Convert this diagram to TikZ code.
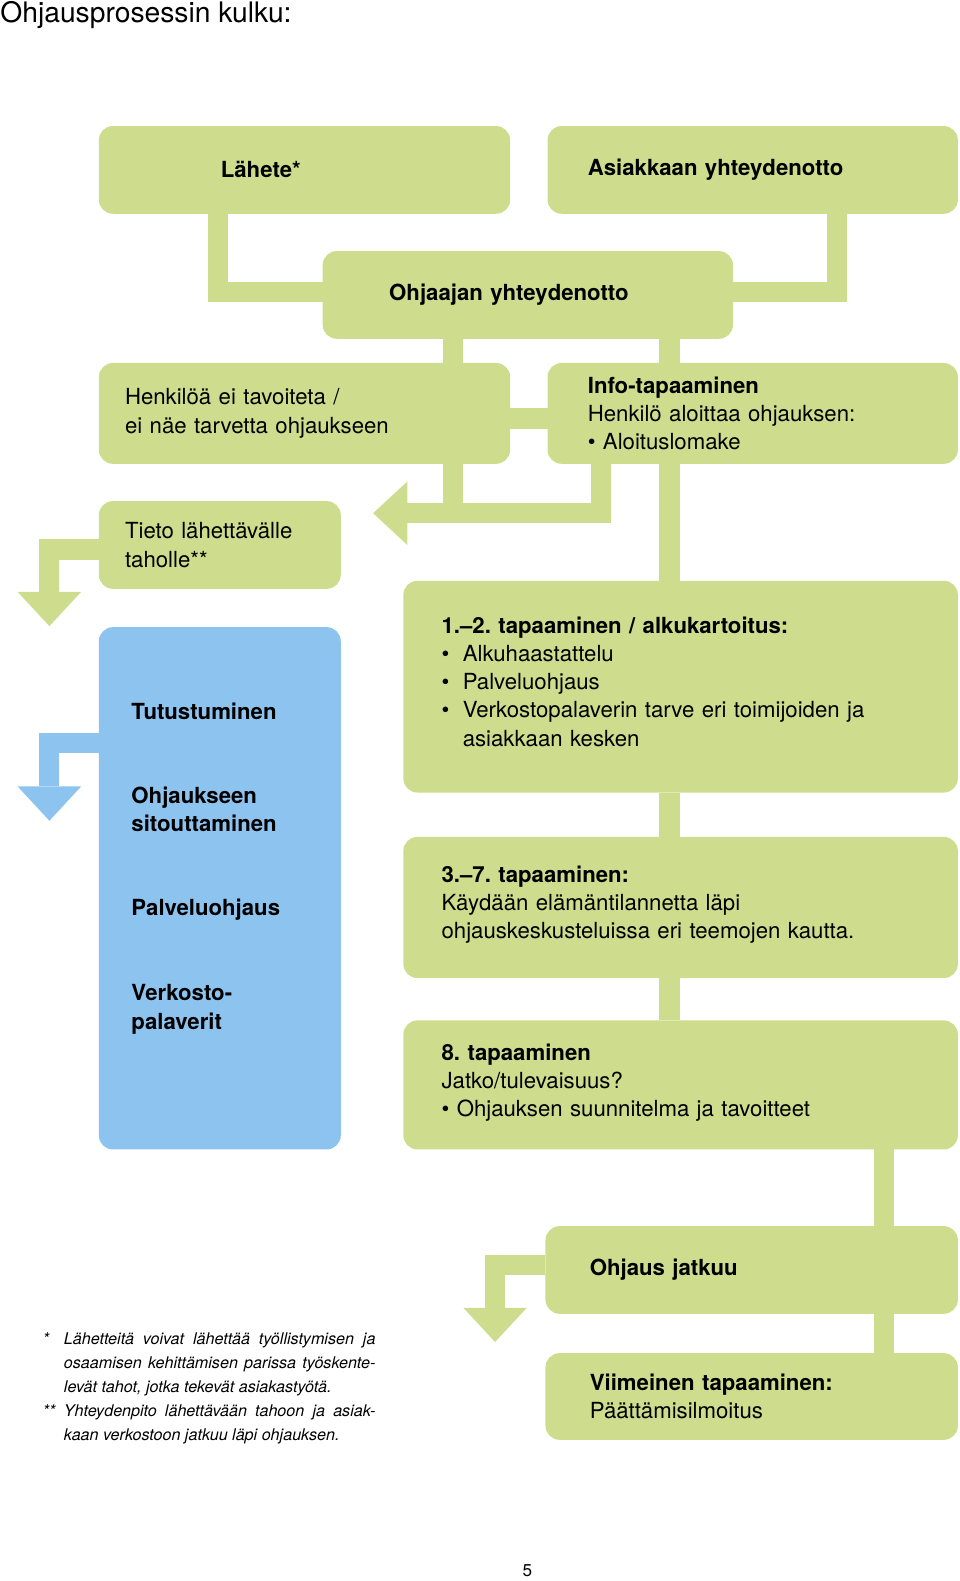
\documentclass[tikz,border=0pt]{standalone}
\usepackage{fontspec}
\setmainfont{TeX Gyre Heros}
\usetikzlibrary{arrows.meta}
\definecolor{ogreen}{RGB}{205,221,141}
\definecolor{oblue}{RGB}{141,195,239}
\newcommand{\blt}{\makebox[10.5pt][l]{\textbullet}}
\newcommand{\alavara}[1]{\par\kern#1\hrule height0pt depth0pt}
\frenchspacing

\begin{document}
\begin{tikzpicture}[x=0.5pt,y=-0.5pt,font=\fontsize{11}{14}\selectfont]
    \tikzset{
        gbox/.style={
            fill=ogreen, rounded corners=7pt, anchor=north west,
            align=left, inner ysep=0pt, outer sep=0pt
        },
        boxsize/.style n args={3}{text width=#1, inner xsep=#2, minimum height=#3},
        phase/.style={anchor=west, inner sep=0pt, align=left, font=\fontsize{11}{14}\selectfont\bfseries},
        bar/.style={draw=#1, line width=10pt, line join=miter},
        bar/.default=ogreen,
        nuoli/.style={-{Triangle[length=17pt,width=31.5pt,line width=0pt]}}
    }
    \useasboundingbox (0,0) rectangle (952,1568);

    \node[anchor=base west, inner sep=0pt, font=\fontsize{14}{16}\selectfont] (otsikko) at (0,22) {Ohjausprosessin kulku:};

    \node[gbox, boxsize={83pt}{60.5pt}{43.5pt}] (lahete) at (98,125) {\textbf{Lähete*}};
    \node[gbox, boxsize={163.5pt}{20pt}{43.5pt}] (asiakas) at (543,125) {\textbf{Asiakkaan yhteydenotto}};
    \node[gbox, boxsize={137.5pt}{33pt}{43.5pt}] (ohjaaja) at (320,249) {\textbf{Ohjaajan yhteydenotto}};
    \node[gbox, boxsize={178pt}{13pt}{50pt}] (henkilo) at (98,360) {Henkilöä ei tavoiteta /\\ei näe tarvetta ohjaukseen};
    \node[gbox, boxsize={163.5pt}{20pt}{50pt}] (info) at (543,360) {\textbf{Info-tapaaminen}\\Henkilö aloittaa ohjauksen:\\\textbullet{} Aloituslomake};
    \node[gbox, boxsize={94pt}{13pt}{43.5pt}] (tieto) at (98,497) {Tieto lähettävälle\\taholle**};
    \node[gbox, boxsize={237pt}{19pt}{105pt}] (alku) at (400,576) {\textbf{1.–2. tapaaminen / alkukartoitus:}\\
        \blt Alkuhaastattelu\\
        \blt Palveluohjaus\\
        \blt Verkostopalaverin tarve eri toimijoiden ja\\
        \hspace*{10.5pt}asiakkaan kesken\alavara{5pt}};
    \node[gbox, fill=oblue, minimum width=120pt, minimum height=259pt, inner sep=0pt] (vaiheet) at (98,622) {};
    \node[gbox, boxsize={237pt}{19pt}{70pt}] (tap37) at (400,830) {\textbf{3.–7. tapaaminen:}\\
        Käydään elämäntilannetta läpi\\
        ohjauskeskusteluissa eri teemojen kautta.\alavara{3pt}};
    \node[gbox, boxsize={237pt}{19pt}{64pt}] (tap8) at (400,1012) {\textbf{8. tapaaminen}\\
        Jatko/tulevaisuus?\\
        \textbullet{} Ohjauksen suunnitelma ja tavoitteet\alavara{2pt}};
    \node[gbox, boxsize={160.5pt}{22pt}{43.5pt}] (jatkuu) at (541,1216) {\textbf{Ohjaus jatkuu}};
    \node[gbox, boxsize={160.5pt}{22pt}{43pt}] (viimeinen) at (541,1342) {\textbf{Viimeinen tapaaminen:}\\Päättämisilmoitus};

    % vaiheet sinisessa laatikossa
    \node[phase] (tutustuminen) at (130,705) {Tutustuminen};
    \node[phase] (sitouttaminen) at (130,803) {Ohjaukseen\\sitouttaminen};
    \node[phase] (palveluohjaus) at (130,902) {Palveluohjaus};
    \node[phase] (verkosto) at (130,1001) {Verkosto-\\palaverit};

    \coordinate (paluu) at (370,509);
    \coordinate (tietokarki) at (49,621);
    \coordinate (vaihekarki) at (49,814);
    \coordinate (jatkokarki) at (491,1331);

    \draw[bar] ([xshift=-43pt]lahete.south) |- ([yshift=1.5pt]ohjaaja.west);
    \draw[bar] ([xshift=42pt]asiakas.south) |- ([yshift=1.5pt]ohjaaja.east);
    \draw[bar] ([xshift=-37.25pt]ohjaaja.south) -- ([xshift=73.5pt]henkilo.north);
    \draw[bar] ([xshift=70.25pt]ohjaaja.south) -- ([xshift=-41.25pt]info.north);
    \draw[bar] ([yshift=-2.5pt]henkilo.east) -- ([yshift=-2.5pt]info.west);
    \draw[bar] ([xshift=73.5pt]henkilo.south) -- ([xshift=73.5pt]henkilo.south |- paluu);
    \draw[bar,nuoli] ([xshift=-75.25pt]info.south) |- (paluu);
    \draw[bar] ([xshift=-41.25pt]info.south) -- ([xshift=-5.5pt]alku.north);
    \draw[bar] ([xshift=-5.5pt]alku.south) -- ([xshift=-5.5pt]tap37.north);
    \draw[bar] ([xshift=-5.5pt]tap37.south) -- ([xshift=-5.5pt]tap8.north);
    \draw[bar] ([xshift=100.75pt]tap8.south) -- ([xshift=65.5pt]jatkuu.north);
    \draw[bar] ([xshift=65.5pt]jatkuu.south) -- ([xshift=65.5pt]viimeinen.north);
    \draw[bar,nuoli] ([yshift=-2.25pt]tieto.west) -| (tietokarki);
    \draw[bar=oblue,nuoli] ([yshift=-57.5pt]vaiheet.north west) -| (vaihekarki);
    \draw[bar,nuoli] ([yshift=2.5pt]jatkuu.west) -| (jatkokarki);

    \node[anchor=north west, inner sep=0pt, text width=165pt, align=justify,
        font=\fontsize{8}{12}\selectfont\itshape] (huomiot) at (42,1321) {%
        \hyphenpenalty=10000
        \hangindent=10.5pt\hangafter=1\noindent\makebox[10.5pt][l]{*}Lähetteitä voivat lähettää työllistymisen ja\linebreak
        osaamisen kehittämisen parissa työskente-\linebreak levät tahot, jotka tekevät asiakastyötä.\par
        \hangindent=10.5pt\hangafter=1\noindent\makebox[10.5pt][l]{**}Yhteydenpito lähettävään tahoon ja asiak-\linebreak
        kaan verkostoon jatkuu läpi ohjauksen.\par};

    \node[inner sep=0pt, font=\fontsize{8.5}{10}\selectfont] (sivu) at (523,1558) {5};
\end{tikzpicture}
\end{document}
